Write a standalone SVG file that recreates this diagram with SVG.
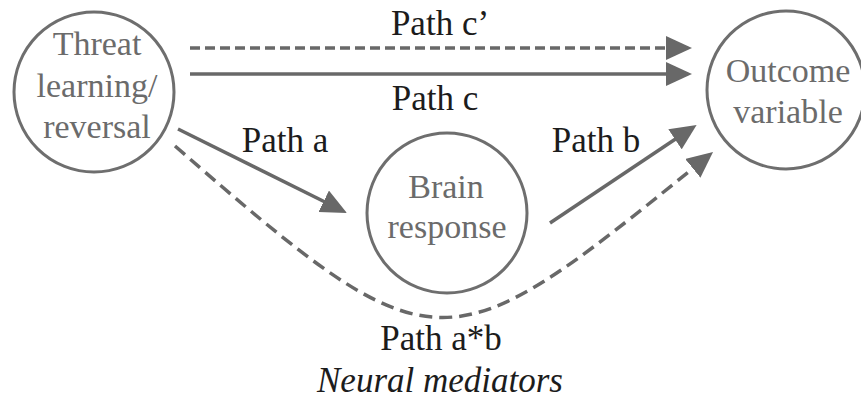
<svg xmlns="http://www.w3.org/2000/svg" width="861" height="405" viewBox="0 0 861 405">
<style>
.node{fill:none;stroke:#6e6e6e;stroke-width:3}
.ntext{font-family:"Liberation Serif","Times New Roman",serif;font-size:34px;fill:#6b6b6b;text-anchor:middle}
.label{font-family:"Liberation Serif","Times New Roman",serif;font-size:35px;fill:#1c1c1c;text-anchor:middle}
.edge{fill:none;stroke:#686868;stroke-width:3.5}
.dash{stroke-dasharray:10 5}
.dash2{stroke-dasharray:13 7}
</style>
<defs>
<marker id="ah" markerUnits="userSpaceOnUse" markerWidth="26" markerHeight="24" refX="6" refY="12" orient="auto" viewBox="0 0 26 24">
<path d="M0,0 L26,12 L0,24 z" fill="#686868"/>
</marker>
</defs>
<rect width="861" height="405" fill="#ffffff"/>
<g id="connectors">
<line class="edge dash" x1="190" y1="48" x2="672" y2="48" marker-end="url(#ah)"/>
<line class="edge" x1="190" y1="74" x2="672" y2="74" marker-end="url(#ah)"/>
<line class="edge" x1="178" y1="129" x2="329" y2="204" marker-end="url(#ah)"/>
<line class="edge" x1="550" y1="223" x2="680" y2="136" marker-end="url(#ah)"/>
<path class="edge dash2" d="M175,146 C436,373 444,370 697.5,164.6" marker-end="url(#ah)"/>
</g>
<g id="threat">
<circle class="node" cx="94" cy="92" r="80"/>
<text class="ntext" x="97" y="55">Threat</text>
<text class="ntext" x="97" y="97">learning/</text>
<text class="ntext" x="97" y="138">reversal</text>
</g>
<g id="outcome">
<circle class="node" cx="786" cy="90" r="79"/>
<text class="ntext" x="788" y="82">Outcome</text>
<text class="ntext" x="788" y="123">variable</text>
</g>
<g id="brain">
<circle class="node" cx="447" cy="213" r="80"/>
<text class="ntext" x="446" y="198">Brain</text>
<text class="ntext" x="447" y="238">response</text>
</g>
<g id="labels">
<text class="label" x="440" y="35">Path c’</text>
<text class="label" x="435" y="110">Path c</text>
<text class="label" x="285" y="152">Path a</text>
<text class="label" x="596" y="152">Path b</text>
<text class="label" x="441" y="350">Path a*b</text>
<text class="label" x="440" y="392" font-style="italic">Neural mediators</text>
</g>
</svg>
